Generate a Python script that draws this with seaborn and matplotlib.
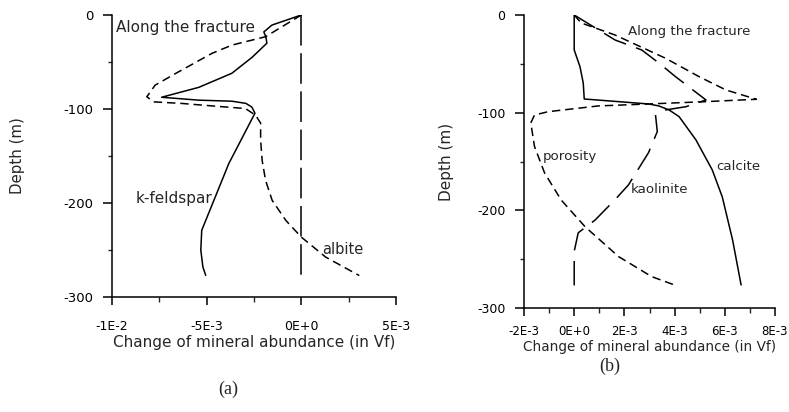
import numpy as np
import pandas as pd
import matplotlib
matplotlib.use("Agg")
import matplotlib.pyplot as plt
import seaborn as sns
from matplotlib.ticker import MultipleLocator, FixedLocator, FixedFormatter

# ---------------- data : panel (a) ----------------
kfs_depth = [0, -10.7, -18, -23.5, -30, -45, -62, -77, -87.5, -90.6, -91.7, -94, -98,
             -104.5, -158, -229, -250, -268, -277]
kfs_x = [0, -1.55e-3, -1.98e-3, -1.87e-3, -1.82e-3, -2.6e-3, -3.67e-3, -5.42e-3, -7.38e-3,
         -5.42e-3, -3.67e-3, -2.93e-3, -2.61e-3, -2.45e-3, -3.83e-3, -5.26e-3, -5.31e-3,
         -5.2e-3, -5.05e-3]

alb_depth = [0, -23.1, -32, -40.8, -60.4, -74.6, -87, -92.4, -94.1, -97, -99.5, -106.6, -115,
             -133.3, -154.6, -175.9, -197.2, -218.5, -236.3, -257.6, -277.2]
alb_x = [0, -1.89e-3, -3.66e-3, -4.72e-3, -6.48e-3, -7.72e-3, -8.16e-3, -7.8e-3, -6.3e-3,
         -4.54e-3, -2.95e-3, -2.42e-3, -2.15e-3, -2.15e-3, -2.07e-3, -1.89e-3, -1.54e-3,
         -0.82e-3, 0, 1.29e-3, 3.06e-3]

zero_depth = [0, -277]
zero_x = [0, 0]

# ---------------- data : panel (b) ----------------
cal_depth = [0, -35.8, -52.9, -69.6, -86, -91.1, -93.1, -97.2, -104.1, -127.9, -158.6,
             -186.3, -230.3, -276.4]
cal_x = [0, 0, 0.23e-3, 0.36e-3, 0.4e-3, 2.97e-3, 3.37e-3, 3.78e-3, 4.18e-3, 4.85e-3,
         5.5e-3, 5.9e-3, 6.31e-3, 6.65e-3]

kao_depth = [0, -25.6, -35.8, -49.1, -63.2, -87, -93.9, -97.2, -102.4, -119.4, -141, -174,
             -189, -210, -223, -242, -278]
kao_x = [0, 1.63e-3, 2.69e-3, 3.37e-3, 4.04e-3, 5.25e-3, 4.45e-3, 3.64e-3, 3.24e-3, 3.31e-3,
         2.96e-3, 2.16e-3, 1.63e-3, 0.83e-3, 0.16e-3, 0, 0]

por_depth = [0, -8.2, -20.5, -44.3, -63.2, -76.8, -86.3, -88.7, -91.1, -93.1, -99, -102.4,
             -110.5, -134.8, -161.7, -189.4, -216.7, -247.4, -267.9, -277.4]
por_x = [0, 0.28e-3, 1.63e-3, 3.64e-3, 4.98e-3, 6.05e-3, 7.26e-3, 5.25e-3, 2.97e-3, 0.96e-3,
         -1.04e-3, -1.58e-3, -1.73e-3, -1.58e-3, -1.18e-3, -0.52e-3, 0.43e-3, 1.77e-3,
         3.09e-3, 4.1e-3]

# ticks / labels
xticks_a = [-0.01, -0.005, 0.0, 0.005]
xticklabels_a = ["-1E-2", "-5E-3", "0E+0", "5E-3"]
xticks_b = [-0.002, 0.0, 0.002, 0.004, 0.006, 0.008]
xticklabels_b = ["-2E-3", "0E+0", "2E-3", "4E-3", "6E-3", "8E-3"]
yticks = [0, -100, -200, -300]
yticklabels = ["0", "-100", "-200", "-300"]
xlabel = "Change of mineral abundance (in Vf)"
ylabel = "Depth (m)"

# ---------------- style ----------------
sns.set_style("ticks")
plt.rcParams["font.family"] = ["DejaVu Sans"]
plt.rcParams["axes.unicode_minus"] = False

W, H = 789, 412
fig = plt.figure(figsize=(W / 100, H / 100), dpi=100)


def frac(l, r, t, b):
    return [l / W, (H - b) / H, (r - l) / W, (b - t) / H]


axA = fig.add_axes(frac(112, 396, 15, 297))
axB = fig.add_axes(frac(524, 775, 15, 308))


def make_df(pairs):
    rows = []
    for name, xs, ys in pairs:
        rows.append(pd.DataFrame({"x": xs, "depth": ys, "series": name}))
    return pd.concat(rows, ignore_index=True)


dfA = make_df([("k-feldspar", kfs_x, kfs_depth),
               ("albite", alb_x, alb_depth),
               ("zero", zero_x, zero_depth)])
dfB = make_df([("calcite", cal_x, cal_depth),
               ("kaolinite", kao_x, kao_depth),
               ("porosity", por_x, por_depth)])

sns.lineplot(data=dfA, x="x", y="depth", style="series", sort=False, estimator=None,
             dashes={"k-feldspar": "", "albite": (5.5, 3.2), "zero": (20, 5)},
             color="black", lw=1.1, legend=False, ax=axA)
sns.lineplot(data=dfB, x="x", y="depth", style="series", sort=False, estimator=None,
             dashes={"calcite": "", "kaolinite": (16, 7), "porosity": (5.5, 3.2)},
             color="black", lw=1.1, legend=False, ax=axB)


def style_axes(ax, xt, xtl, xminor, xlim, ticksize, xpad, ylab_x, xlab_y, xlab_size,
               ylab_size):
    ax.set_xlim(*xlim)
    ax.set_ylim(-300, 0)
    ax.xaxis.set_major_locator(FixedLocator(xt))
    ax.xaxis.set_major_formatter(FixedFormatter(xtl))
    ax.xaxis.set_minor_locator(MultipleLocator(xminor))
    ax.yaxis.set_major_locator(FixedLocator(yticks))
    ax.yaxis.set_major_formatter(FixedFormatter(yticklabels))
    ax.yaxis.set_minor_locator(MultipleLocator(50))
    for s in ["top", "right"]:
        ax.spines[s].set_visible(False)
    for s in ["left", "bottom"]:
        ax.spines[s].set_linewidth(1.1)
        ax.spines[s].set_color("black")
    ax.tick_params(axis="x", which="major", direction="out", length=5.8, width=1.1,
                   pad=xpad, labelsize=ticksize, colors="black")
    ax.tick_params(axis="x", which="minor", direction="out", length=3.6, width=1.0)
    ax.tick_params(axis="y", which="major", direction="out", length=6.5, width=1.1,
                   pad=7, labelsize=ticksize + 0.5, colors="black")
    ax.tick_params(axis="y", which="minor", direction="out", length=3.0, width=1.0)
    ax.set_xlabel(xlabel, fontsize=xlab_size, va="center")
    ax.xaxis.set_label_coords(0.5, xlab_y)
    ax.set_ylabel(ylabel, fontsize=ylab_size, va="center")
    ax.yaxis.set_label_coords(ylab_x, 0.5)
    ax.set_facecolor("white")


style_axes(axA, xticks_a, xticklabels_a, 0.0025, (-0.01, 0.005), 9, 11,
           (17 - 112) / 284, -(343 - 297) / 282, 11, 10.8)
style_axes(axB, xticks_b, xticklabels_b, 0.001, (-0.002, 0.008), 8.5, 6.5,
           (447 - 524) / 251, -(347 - 308) / 293, 9.8, 11)

# annotations
axA.text(-9.77e-3, -12.8, "Along the fracture", fontsize=11, ha="left", va="center")
axA.text(-8.76e-3, -195, "k-feldspar", fontsize=11, ha="left", va="center")
axA.text(1.1e-3, -249.5, "albite", fontsize=10.5, ha="left", va="center")

axB.text(2.13e-3, -17, "Along the fracture", fontsize=9.6, ha="left", va="center")
axB.text(-1.24e-3, -145, "porosity", fontsize=9.6, ha="left", va="center")
axB.text(2.24e-3, -179, "kaolinite", fontsize=9.6, ha="left", va="center")
axB.text(5.65e-3, -155.6, "calcite", fontsize=9.6, ha="left", va="center")

fig.text(228 / W, 1 - 389 / H, "(a)", fontsize=13, family="Liberation Serif",
         ha="center", va="center")
fig.text(610 / W, 1 - 366 / H, "(b)", fontsize=13, family="Liberation Serif",
         ha="center", va="center")

fig.savefig("out.png", dpi=100, facecolor="white")
